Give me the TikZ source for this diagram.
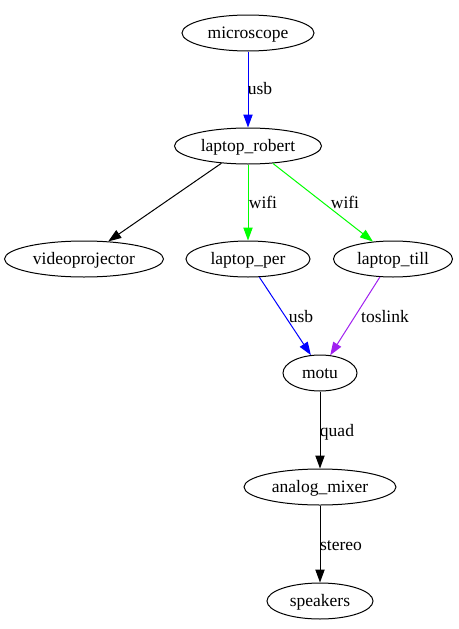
\documentclass[tikz,border=0pt]{standalone}
\usepackage{fontspec}
\setmainfont{Liberation Serif}
\usetikzlibrary{shapes.geometric,arrows.meta}
\definecolor{gvblue}{RGB}{0,0,255}
\definecolor{gvgreen}{RGB}{0,255,0}
\definecolor{gvpurple}{RGB}{160,32,240}
\begin{document}
\begin{tikzpicture}[x=1pt,y=-1pt,
  gvnode/.style={draw, ellipse, line width=1pt, minimum height=36pt, inner sep=0pt, text height=13pt, text depth=3pt, font=\fontsize{17.5}{20}\selectfont},
  gvedge/.style={line width=1pt, -{Triangle[length=13pt,width=9.3pt]}},
  gvlabel/.style={font=\fontsize{17.5}{20}\selectfont, inner sep=0pt, text height=13pt, text depth=3pt}]
\useasboundingbox (0,0) rectangle (458,629);
\node[gvnode, minimum width=132pt] (mic) at (248,33) {microscope};
\node[gvnode, minimum width=147pt] (lr) at (248,146) {laptop\_robert};
\node[gvnode, minimum width=159pt] (vp) at (84,259) {videoprojector};
\node[gvnode, minimum width=124pt] (lp) at (248,259) {laptop\_per};
\node[gvnode, minimum width=119pt] (lt) at (393,259) {laptop\_till};
\node[gvnode, minimum width=74pt] (motu) at (320,373) {motu};
\node[gvnode, minimum width=152pt] (am) at (320,487) {analog\_mixer};
\node[gvnode, minimum width=106pt] (sp) at (320,601) {speakers};

\draw[gvedge, gvblue] (mic) -- (lr);
\draw[gvedge, black] (lr.213.7) -- (vp.36.9);
\draw[gvedge, gvgreen] (lr) -- (lp);
\draw[gvedge, gvgreen] (lr.-35.5) -- (lt.139.4);
\draw[gvedge, gvblue] (lp.-58.7) -- (motu.117.5);
\draw[gvedge, gvpurple] (lt.234.5) -- (motu.60.8);
\draw[gvedge, black] (motu) -- (am);
\draw[gvedge, black] (am) -- (sp);

\node[gvlabel] (l1) at (260,89) {usb};
\node[gvlabel] (l2) at (263,203) {wifi};
\node[gvlabel] (l3) at (345,203) {wifi};
\node[gvlabel] (l4) at (301,317) {usb};
\node[gvlabel] (l5) at (385,317) {toslink};
\node[gvlabel] (l6) at (337,431) {quad};
\node[gvlabel] (l7) at (341,545) {stereo};
\end{tikzpicture}
\end{document}
